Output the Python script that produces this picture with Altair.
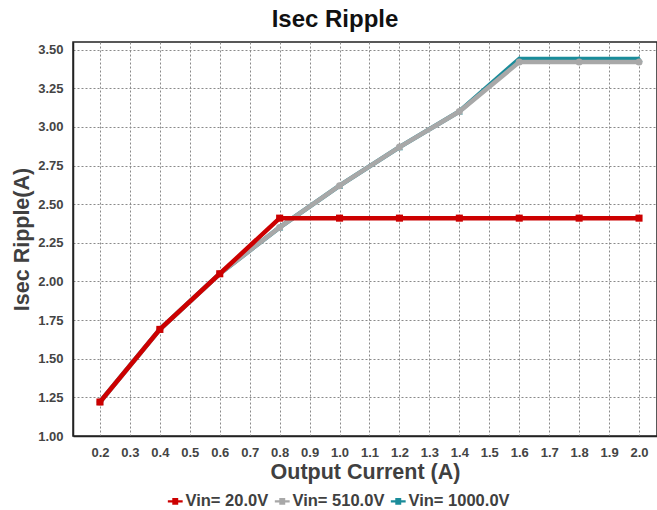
import altair as alt
import pandas as pd

# Output current (A) sample points
current = [0.2, 0.4, 0.6, 0.8, 1.0, 1.2, 1.4, 1.6, 1.8, 2.0]

# Isec ripple (A) per input voltage
ripple_20v = [1.22, 1.69, 2.05, 2.41, 2.41, 2.41, 2.41, 2.41, 2.41, 2.41]
ripple_510v = [1.22, 1.69, 2.05, 2.35, 2.62, 2.87, 3.10, 3.42, 3.42, 3.42]
ripple_1000v = [1.22, 1.69, 2.05, 2.35, 2.62, 2.87, 3.10, 3.44, 3.44, 3.44]

series_names = ["Vin= 20.0V", "Vin= 510.0V", "Vin= 1000.0V"]
series_colors = ["#CC0000", "#A8A8A8", "#1A8C9A"]
series_shapes = ["square", "circle", "triangle-up"]

x_ticks = [0.2, 0.3, 0.4, 0.5, 0.6, 0.7, 0.8, 0.9, 1.0, 1.1,
           1.2, 1.3, 1.4, 1.5, 1.6, 1.7, 1.8, 1.9, 2.0]
y_ticks = [1.0, 1.25, 1.5, 1.75, 2.0, 2.25, 2.5, 2.75, 3.0, 3.25, 3.5]

frames = []
for name, vals in zip(series_names, [ripple_20v, ripple_510v, ripple_1000v]):
    frames.append(pd.DataFrame({"current": current, "ripple": vals, "series": name}))
df = pd.concat(frames, ignore_index=True)

color_scale = alt.Scale(domain=series_names, range=series_colors)

legend_symbol = ("M-1,-0.14 L1,-0.14 L1,0.14 L-1,0.14 Z "
                 "M-0.4,-0.45 L0.4,-0.45 L0.4,0.45 L-0.4,0.45 Z")

x_enc = alt.X(
    "current:Q",
    scale=alt.Scale(domain=[0.11, 2.06], nice=False, zero=False),
    axis=alt.Axis(
        title="Output Current (A)", values=x_ticks, format=".1f",
        labelOverlap=False,
        labelFont="Liberation Sans", labelFontWeight="bold", labelFontSize=13,
        labelColor="#444444", labelPadding=10,
        titleFont="Liberation Sans", titleFontWeight="bold", titleFontSize=21.5,
        titleColor="#404040", titlePadding=2,
        tickSize=0, domainColor="#222222", domainWidth=1.5,
        gridColor="#8a8a8a", gridDash=[2, 2], gridWidth=1,
    ),
)
y_enc = alt.Y(
    "ripple:Q",
    scale=alt.Scale(domain=[1.0, 3.55], nice=False, zero=False),
    axis=alt.Axis(
        title="Isec Ripple(A)", values=y_ticks, format=".2f",
        labelOverlap=False,
        labelFont="Liberation Sans", labelFontWeight="bold", labelFontSize=13,
        labelColor="#444444", labelPadding=10,
        titleFont="Liberation Sans", titleFontWeight="bold", titleFontSize=21.5,
        titleColor="#404040", titlePadding=4,
        tickSize=0, domainColor="#222222", domainWidth=1.5,
        gridColor="#8a8a8a", gridDash=[2, 2], gridWidth=1,
    ),
)
color_enc = alt.Color(
    "series:N", scale=color_scale,
    legend=alt.Legend(
        title=None, orient="none", direction="horizontal",
        legendX=94, legendY=451,
        symbolType=legend_symbol, symbolSize=220, symbolStrokeWidth=0,
        labelFont="Liberation Sans", labelFontWeight="bold", labelFontSize=16.5,
        labelColor="#404040", columnPadding=5, labelOffset=2,
    ),
)

layers = []
# later series are drawn first so the 20 V trace sits on top
for name, shape in zip(reversed(series_names), reversed(series_shapes)):
    sub = alt.Chart(df).transform_filter(alt.datum.series == name)
    line = sub.mark_line(strokeWidth=4.5).encode(x=x_enc, y=y_enc, color=color_enc)
    pts = sub.mark_point(filled=True, size=50, shape=shape, opacity=1).encode(
        x=x_enc, y=y_enc,
        color=alt.Color("series:N", scale=color_scale, legend=None),
    )
    layers += [line, pts]

chart = alt.layer(*layers).properties(
    width=584,
    height=394,
    autosize=alt.AutoSizeParams(type="none"),
    padding={"left": 73, "top": 42, "right": 0, "bottom": 74},
    title=alt.TitleParams(
        "Isec Ripple", font="Liberation Sans", fontSize=24, fontWeight="bold",
        color="#111111", anchor="middle", dx=-30, offset=10,
    ),
).configure(
    background="white",
    view=alt.ViewConfig(stroke="#222222", strokeWidth=1.5),
)

chart.save("out.html", embed_options={"renderer": "svg", "actions": False})
